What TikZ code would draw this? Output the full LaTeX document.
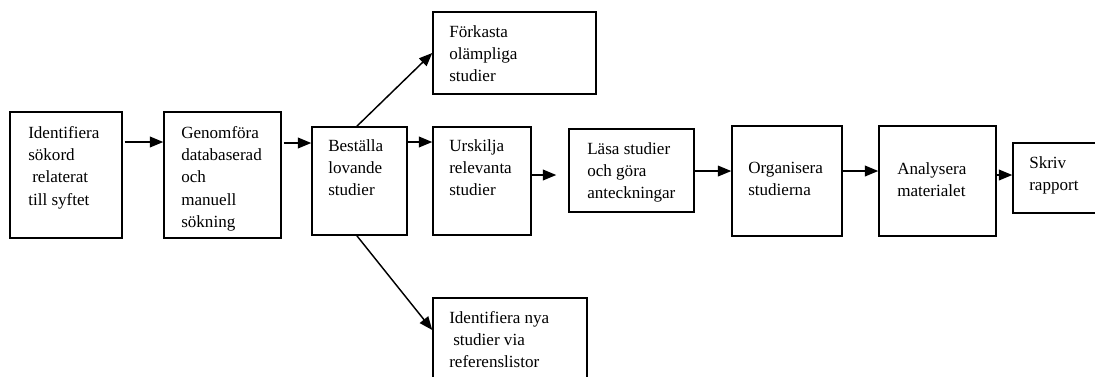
\documentclass[tikz,border=0pt]{standalone}
\usepackage{fontspec}
\setmainfont{Liberation Serif}
\usetikzlibrary{arrows.meta}

\begin{document}
\begin{tikzpicture}%
	[x=0.75pt,
	y=-0.75pt,
	box/.style={draw=black, line width=1.1pt, inner sep=0pt, rectangle},
	txt/.style={inner sep=0pt, anchor=north west, align=left,
		font=\fontsize{12.8pt}{16.7pt}\selectfont},
	arr/.style={line width=1.1pt, -{Triangle[length=10pt,width=8pt]}}]
%
\clip (0,0) rectangle (1095,376);
%%
%% Drawing the boxes
%%
\node[box, minimum width=84pt,    minimum height=94.5pt] (identifiera) at (66,175)    {};
\node[box, minimum width=87.75pt, minimum height=94.5pt] (genomfora)   at (222.5,175) {};
\node[box, minimum width=71.25pt, minimum height=81pt]   (bestalla)    at (359.5,181) {};
\node[box, minimum width=122.25pt,minimum height=61.5pt] (forkasta)    at (514.5,53)  {};
\node[box, minimum width=73.5pt,  minimum height=81pt]   (urskilja)    at (482,181)   {};
\node[box, minimum width=93.75pt, minimum height=62.25pt](lasa)        at (631.5,170.5) {};
\node[box, minimum width=82.5pt,  minimum height=82.5pt] (organisera)  at (787,181)   {};
\node[box, minimum width=87.75pt, minimum height=82.5pt] (analysera)   at (937.5,181) {};
\node[box, minimum width=67.5pt,  minimum height=52.5pt] (skriv)       at (1058,178)  {};
\node[box, minimum width=115.5pt, minimum height=69pt]   (nya)         at (510,344)   {};
%%
%% Drawing the texts
%%
\node[txt] (identifieraT) at (28,126)  {Identifiera\\sökord\\\hspace*{3pt}relaterat\\till syftet};
\node[txt] (genomforaT)   at (181,126) {Genomföra\\databaserad\\och\\manuell\\sökning};
\node[txt] (bestallaT)    at (328,139) {Beställa\\lovande\\studier};
\node[txt] (forkastaT)    at (449,25)  {Förkasta\\olämpliga\\studier};
\node[txt] (urskiljaT)    at (449,139) {Urskilja\\relevanta\\studier};
\node[txt] (lasaT)        at (587,142) {Läsa studier\\och göra\\anteckningar};
\node[txt] (organiseraT)  at (748,162) {Organisera\\studierna};
\node[txt] (analyseraT)   at (897,162) {Analysera\\materialet};
\node[txt] (skrivT)       at (1029,156) {Skriv\\rapport};
\node[txt] (nyaT)         at (449,311) {Identifiera nya\\\hspace*{3pt}studier via\\referenslistor};
%%
%% Drawing the arrows
%%
\draw[arr, shorten <=1.5pt] ([yshift=24.75pt]identifiera.east) -- ([yshift=24.75pt]genomfora.west);
\draw[arr, shorten <=1.5pt] ([yshift=24pt]genomfora.east) -- ([yshift=24pt]genomfora.east -| bestalla.west);
\draw[arr] ([yshift=29.25pt]bestalla.east) -- ([yshift=29.25pt]bestalla.east -| urskilja.west);
\draw[arr] ([xshift=-2pt]bestalla.north) -- (forkasta.west);
\draw[arr] ([xshift=-2pt]bestalla.south) -- ([yshift=10.5pt]nya.west);
\draw[arr, shorten >=9pt] ([yshift=4.5pt]urskilja.east) -- ([yshift=4.5pt]urskilja.east -| lasa.west);
\draw[arr] ([yshift=-0.4pt]lasa.east) -- ([yshift=-0.4pt]lasa.east -| organisera.west);
\draw[arr] ([yshift=7.5pt]organisera.east) -- ([yshift=7.5pt]organisera.east -| analysera.west);
\draw[arr] ([yshift=4.5pt]analysera.east) -- ([yshift=4.5pt]analysera.east -| skriv.west);

\end{tikzpicture}
\end{document}
